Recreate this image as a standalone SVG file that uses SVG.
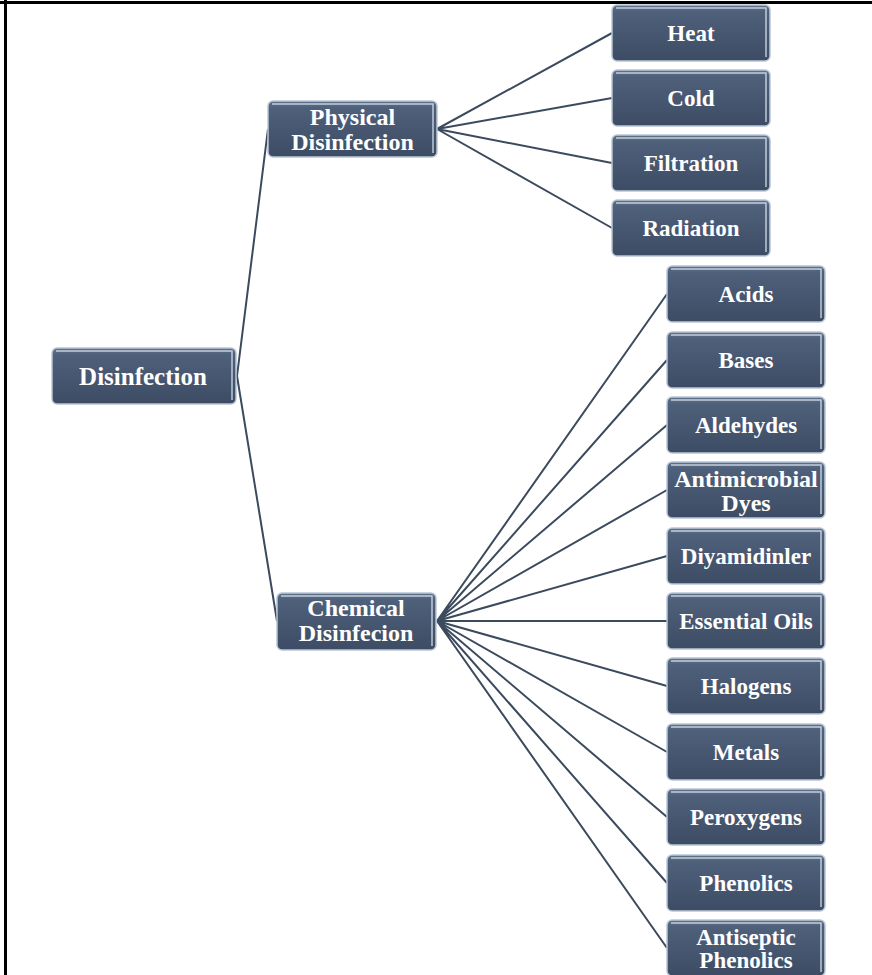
<svg xmlns="http://www.w3.org/2000/svg" width="872" height="975" viewBox="0 0 872 975">
<defs>
<linearGradient id="g" x1="0" y1="0" x2="0" y2="1">
<stop offset="0" stop-color="#61728c"/>
<stop offset="0.12" stop-color="#4f607b"/>
<stop offset="1" stop-color="#3d4c64"/>
</linearGradient>
<style>
.box{fill:url(#g);stroke:#b9c6d6;stroke-width:1.5}
.hl{fill:none;stroke:#dfe7f0;stroke-width:1.5;opacity:0.8}
.t{font-family:"Liberation Serif","Times New Roman",serif;font-weight:bold;fill:#ffffff;text-anchor:middle;font-size:23px}
.c{stroke:#3c4a5e;stroke-width:2;fill:none}
</style>
</defs>
<rect x="0" y="0" width="872" height="975" fill="#ffffff"/>
<line x1="0" y1="2.5" x2="872" y2="2.5" stroke="#000" stroke-width="3"/>
<line x1="5.5" y1="0" x2="5.5" y2="975" stroke="#000" stroke-width="3"/>
<g id="connectors">
<path class="c" d="M237 376 L268 129 M237 376 L277 621"/>
<path class="c" d="M437 129 L612 33 M437 129 L612 98 M437 129 L612 163 M437 129 L612 228"/>
<path class="c" d="M437 621 L667 294 M437 621 L667 360 M437 621 L667 425 M437 621 L667 490 M437 621 L667 556 M437 621 L667 621 M437 621 L667 686 M437 621 L667 752 M437 621 L667 817 M437 621 L667 883 M437 621 L667 948"/>
</g>
<g id="n-disinfection"><rect class="box" x="52" y="348" width="184" height="56" rx="5"/><path class="hl" d="M56 351 H232 V400"/><text class="t" x="143" y="385" style="font-size:25px">Disinfection</text></g>
<g id="n-physical"><rect class="box" x="268" y="101" width="169" height="56" rx="5"/><path class="hl" d="M272 104 H433 V153"/><text class="t" x="352.5" y="125" style="font-size:24px">Physical</text><text class="t" x="352.5" y="150" style="font-size:24px">Disinfection</text></g>
<g id="n-chemical"><rect class="box" x="277" y="593" width="159" height="57" rx="5"/><path class="hl" d="M281 596 H432 V646"/><text class="t" x="356" y="616" style="font-size:24px">Chemical</text><text class="t" x="356" y="641" style="font-size:24px">Disinfecion</text></g>
<g id="n-heat"><rect class="box" x="612" y="5" width="158" height="56" rx="5"/><path class="hl" d="M616 8 H766 V57"/><text class="t" x="691" y="41">Heat</text></g>
<g id="n-cold"><rect class="box" x="612" y="70" width="158" height="56" rx="5"/><path class="hl" d="M616 73 H766 V122"/><text class="t" x="691" y="106">Cold</text></g>
<g id="n-filtration"><rect class="box" x="612" y="135" width="158" height="56" rx="5"/><path class="hl" d="M616 138 H766 V187"/><text class="t" x="691" y="171">Filtration</text></g>
<g id="n-radiation"><rect class="box" x="612" y="200" width="158" height="56" rx="5"/><path class="hl" d="M616 203 H766 V252"/><text class="t" x="691" y="236">Radiation</text></g>
<g id="n-acids"><rect class="box" x="667" y="266" width="158" height="56" rx="5"/><path class="hl" d="M671 269 H821 V318"/><text class="t" x="746" y="302">Acids</text></g>
<g id="n-bases"><rect class="box" x="667" y="332" width="158" height="56" rx="5"/><path class="hl" d="M671 335 H821 V384"/><text class="t" x="746" y="368">Bases</text></g>
<g id="n-aldehydes"><rect class="box" x="667" y="397" width="158" height="56" rx="5"/><path class="hl" d="M671 400 H821 V449"/><text class="t" x="746" y="433">Aldehydes</text></g>
<g id="n-dyes"><rect class="box" x="667" y="462" width="158" height="56" rx="5"/><path class="hl" d="M671 465 H821 V514"/><text class="t" x="746" y="487" style="font-size:24px">Antimicrobial</text><text class="t" x="746" y="511" style="font-size:24px">Dyes</text></g>
<g id="n-diyamidinler"><rect class="box" x="667" y="528" width="158" height="56" rx="5"/><path class="hl" d="M671 531 H821 V580"/><text class="t" x="746" y="564">Diyamidinler</text></g>
<g id="n-oils"><rect class="box" x="667" y="593" width="158" height="56" rx="5"/><path class="hl" d="M671 596 H821 V645"/><text class="t" x="746" y="629">Essential Oils</text></g>
<g id="n-halogens"><rect class="box" x="667" y="658" width="158" height="56" rx="5"/><path class="hl" d="M671 661 H821 V710"/><text class="t" x="746" y="694">Halogens</text></g>
<g id="n-metals"><rect class="box" x="667" y="724" width="158" height="56" rx="5"/><path class="hl" d="M671 727 H821 V776"/><text class="t" x="746" y="760">Metals</text></g>
<g id="n-peroxygens"><rect class="box" x="667" y="789" width="158" height="56" rx="5"/><path class="hl" d="M671 792 H821 V841"/><text class="t" x="746" y="825">Peroxygens</text></g>
<g id="n-phenolics"><rect class="box" x="667" y="855" width="158" height="56" rx="5"/><path class="hl" d="M671 858 H821 V907"/><text class="t" x="746" y="891">Phenolics</text></g>
<g id="n-antiseptic"><rect class="box" x="667" y="920" width="158" height="56" rx="5"/><path class="hl" d="M671 923 H821 V972"/><text class="t" x="746" y="945">Antiseptic</text><text class="t" x="746" y="968">Phenolics</text></g>
</svg>
